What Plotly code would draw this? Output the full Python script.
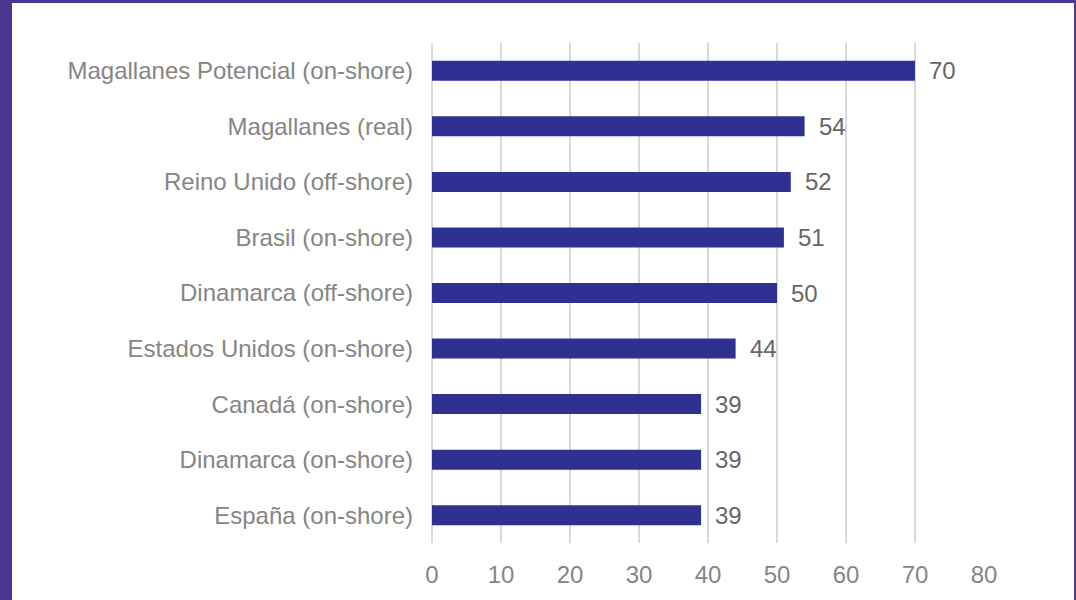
import plotly.graph_objects as go

categories = [
    "Magallanes Potencial (on-shore)",
    "Magallanes (real)",
    "Reino Unido (off-shore)",
    "Brasil (on-shore)",
    "Dinamarca (off-shore)",
    "Estados Unidos (on-shore)",
    "Canadá (on-shore)",
    "Dinamarca (on-shore)",
    "España (on-shore)",
]
values = [70, 54, 52, 51, 50, 44, 39, 39, 39]
x_ticks = [0, 10, 20, 30, 40, 50, 60, 70, 80]

W, H = 1076, 600
FONT = "Liberation Sans, Arial, sans-serif"
FS = 24

fig = go.Figure(
    go.Bar(
        x=values,
        y=categories,
        orientation="h",
        width=0.36,
        marker=dict(color="#2E3192", line=dict(width=0)),
        hoverinfo="x+y",
    )
)

annotations = [
    dict(
        x=v, y=c, xref="x", yref="y", text=str(v), showarrow=False,
        xanchor="left", yanchor="middle", xshift=12,
        font=dict(family=FONT, size=FS, color="#666666"),
    )
    for c, v in zip(categories, values)
]

fig.update_layout(
    width=W, height=H,
    autosize=False,
    margin=dict(l=0, r=0, t=0, b=0, pad=0, autoexpand=False),
    paper_bgcolor="#4A3790",
    plot_bgcolor="white",
    showlegend=False,
    annotations=annotations,
    shapes=[
        dict(type="rect", xref="paper", yref="paper",
             x0=12 / W, x1=1074 / W, y0=0, y1=1 - 3 / H,
             fillcolor="white", line=dict(width=0), layer="below"),
    ],
    xaxis=dict(
        domain=[432 / W, 984 / W],
        range=[0, 80],
        tickvals=x_ticks,
        automargin=False,
        showgrid=True, gridcolor="#D9D9D9", gridwidth=1.5,
        zeroline=True, zerolinecolor="#D9D9D9", zerolinewidth=1.5,
        showline=False,
        tickfont=dict(family=FONT, size=FS, color="#858585"),
        ticklabelstandoff=15,
        fixedrange=True,
    ),
    yaxis=dict(
        domain=[1 - 543 / H, 1 - 43 / H],
        autorange="reversed",
        automargin=False,
        categoryorder="array", categoryarray=categories,
        showgrid=False, zeroline=False, showline=False,
        tickfont=dict(family=FONT, size=FS, color="#858585"),
        ticklabelstandoff=18,
        fixedrange=True,
    ),
)

fig.write_html("out.html")
